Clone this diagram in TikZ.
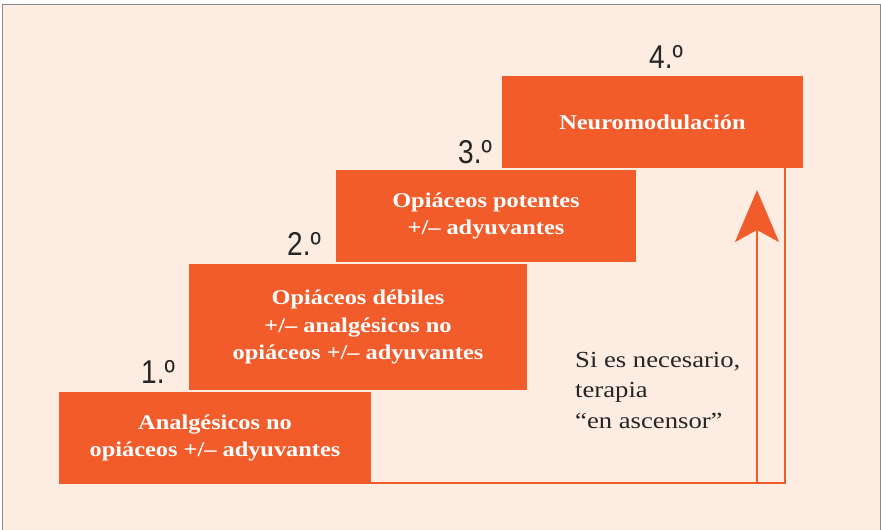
\documentclass[tikz,border=0pt]{standalone}
\usepackage{fontspec}
\setmainfont{Liberation Serif}
\newfontfamily\widefont[FakeStretch=1.16]{Liberation Serif}
\newfontfamily\narrowfont[FakeStretch=0.85]{Liberation Sans}
\usetikzlibrary{arrows.meta}
\definecolor{bgc}{HTML}{FDECE2}
\definecolor{orc}{HTML}{F25C2A}
\definecolor{frc}{HTML}{8A8A8A}
\begin{document}
\begin{tikzpicture}[x=1pt,y=-1pt,
  stepbox/.style={fill=orc,draw=none,text=white,font=\widefont\fontsize{21}{27.5}\selectfont\bfseries,align=center,inner sep=0pt},
  numlab/.style={font=\narrowfont\fontsize{33}{35}\selectfont,text=black!85,inner sep=0pt,anchor=base},
  conn/.style={draw=orc,line width=2.6pt}]
\useasboundingbox (0,0) rectangle (881,530);
\fill[white] (0,0) rectangle (881,530);
\fill[bgc] (2,4) rectangle (880,531);
\draw[frc,line width=1pt] (2,531) -- (2,4) -- (880,4) -- (880,531);
% boxes
\node[stepbox,minimum width=312pt,minimum height=92pt] (b1) at (215,438) {Analgésicos no\\opiáceos +/\textendash{} adyuvantes};
\node[stepbox,minimum width=338pt,minimum height=126pt] (b2) at (358,327) {Opiáceos débiles\\+/\textendash{} analgésicos no\\opiáceos +/\textendash{} adyuvantes};
\node[stepbox,minimum width=300pt,minimum height=92pt] (b3) at (486,216) {Opiáceos potentes\\+/\textendash{} adyuvantes};
\node[stepbox,minimum width=301pt,minimum height=92pt] (b4) at (652.5,122) {Neuromodulación};
% numbers
\node[numlab] (n1) at (158,383) {1.º};
\node[numlab] (n2) at (304,255) {2.º};
\node[numlab] (n3) at (475,163) {3.º};
\node[numlab] (n4) at (666,68) {4.º};
% connectors
\coordinate (p0) at (371,483);
\coordinate (pa) at (757,483);
\coordinate (pc) at (785,483);
\coordinate (pt) at (757,190);
\draw[conn] (p0) -- (pc) -- (pc |- b4.south);
\draw[conn,-{Stealth[length=52pt,width=44pt,inset=12pt]}] (pa) -- (pt);
% side text
\node[font=\widefont\fontsize{23}{30.5}\selectfont,text=black!85,align=left,anchor=north west,inner sep=0pt] (t) at (575,352) {Si es necesario,\\terapia\\“en ascensor”};
\end{tikzpicture}
\end{document}
